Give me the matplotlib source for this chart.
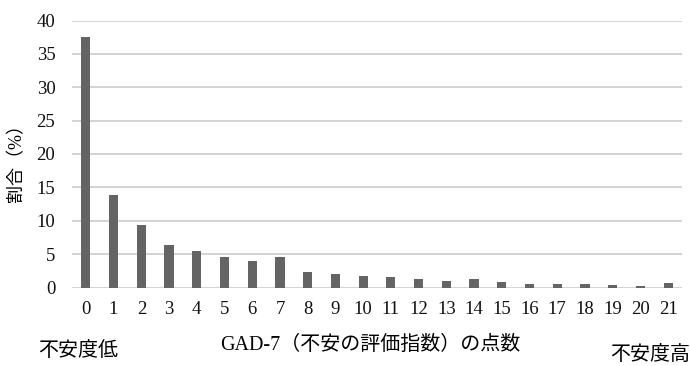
import matplotlib
matplotlib.use('Agg')
import matplotlib.pyplot as plt
import numpy as np

# GAD-7 score distribution (%)
scores = list(range(22))
share = [37.6, 13.8, 9.3, 6.4, 5.4, 4.5, 4.0, 4.6, 2.3, 2.0, 1.7,
         1.5, 1.2, 1.0, 1.3, 0.8, 0.5, 0.45, 0.5, 0.3, 0.2, 0.7]
y_ticks = [0, 5, 10, 15, 20, 25, 30, 35, 40]

fonts = ['Liberation Serif', 'Noto Sans CJK JP']
plt.rcParams['font.family'] = fonts

fig = plt.figure(figsize=(6.9, 3.66), dpi=100)
ax = fig.add_axes([72 / 690, 1 - 287.5 / 366, (682 - 72) / 690, (287.5 - 20.5) / 366])

ax.bar(scores, share, width=0.33, color='#646464', zorder=3)

ax.set_xlim(-0.5, 21.5)
ax.set_ylim(0, 40)
ax.set_yticks(y_ticks)
ax.set_xticks(scores)
ax.set_xticklabels([str(s) for s in scores])
ax.tick_params(length=0, labelsize=13.5, colors='#111111')
ax.tick_params(axis='x', pad=10)
ax.tick_params(axis='y', pad=12)
ax.grid(axis='y', color='#d0d0d0', linewidth=1.3, zorder=0)
for s in ax.spines.values():
    s.set_visible(False)

fig.text(17 / 690, 1 - 158 / 366, '割合（%）', rotation=90,
         ha='center', va='center', fontsize=13)

fig.text(370 / 690, 1 - 345 / 366, 'GAD-7（不安の評価指数）の点数',
         ha='center', va='center', fontsize=14.4)
fig.text(38 / 690, 1 - 351 / 366, '不安度低', ha='left', va='center', fontsize=14.4)
fig.text(610 / 690, 1 - 356 / 366, '不安度高', ha='left', va='center', fontsize=14.4)

fig.savefig('out.png', dpi=100)
